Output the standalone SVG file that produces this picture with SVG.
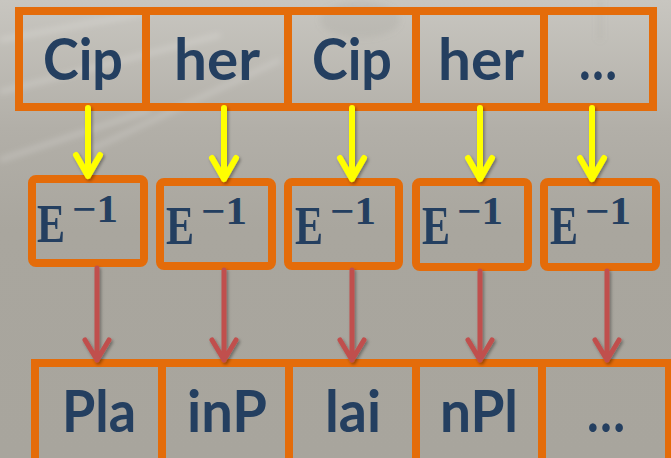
<svg xmlns="http://www.w3.org/2000/svg" width="671" height="458" viewBox="0 0 671 458">
  <defs>
    <linearGradient id="bg" x1="0" y1="0" x2="0" y2="1">
      <stop offset="0" stop-color="#c8c6c0"/>
      <stop offset="0.28" stop-color="#b2afa8"/>
      <stop offset="0.5" stop-color="#a9a69e"/>
      <stop offset="1" stop-color="#a8a59d"/>
    </linearGradient>
    <filter id="soft" x="-20%" y="-20%" width="140%" height="140%">
      <feGaussianBlur stdDeviation="3"/>
    </filter>
    <filter id="shadow" x="-50%" y="-10%" width="200%" height="130%">
      <feDropShadow dx="1.5" dy="2" stdDeviation="1.5" flood-color="#000" flood-opacity="0.35"/>
    </filter>
    <style>
      .cell { fill: none; stroke: #e46c0a; stroke-width: 8; }
      .box { fill: none; stroke: #e46c0a; stroke-width: 8; }
      .word { font-family: Lato, "Open Sans", sans-serif; font-weight: bold; font-size: 57px; fill: #243f60; text-anchor: middle; }
      .op { font-family: "Liberation Serif", serif; font-weight: bold; fill: #243f60; }
      .e { font-size: 55px; }
      .sup { font-size: 39px; }
      .enc { fill: none; stroke: #ffff00; stroke-width: 6; stroke-linecap: round; stroke-linejoin: round; }
      .dec { fill: none; stroke: #c0504d; stroke-width: 5; stroke-linecap: round; stroke-linejoin: round; }
    </style>
  </defs>

  <!-- backdrop -->
  <rect width="671" height="458" fill="url(#bg)"/>
  <g filter="url(#soft)" fill="none" stroke="#ffffff" stroke-opacity="0.3" stroke-width="3">
    <path d="M0 40 L150 12"/>
    <path d="M0 92 L220 35"/>
    <path d="M0 160 L150 110"/>
    <path d="M90 150 L280 60"/>
  </g>
  <g filter="url(#soft)" fill="#8f8c86" fill-opacity="0.15">
    <ellipse cx="360" cy="20" rx="40" ry="18"/>
    <rect x="598" y="0" width="4" height="40"/>
  </g>

  <!-- ciphertext blocks -->
  <g id="cipher-1"><rect class="cell" x="19" y="11" width="127" height="96"/><text class="word" x="83" y="80" textLength="80" lengthAdjust="spacingAndGlyphs">Cip</text></g>
  <g id="cipher-2"><rect class="cell" x="146" y="11" width="142" height="96"/><text class="word" x="217" y="80" textLength="86" lengthAdjust="spacingAndGlyphs">her</text></g>
  <g id="cipher-3"><rect class="cell" x="288" y="11" width="128" height="96"/><text class="word" x="352" y="80" textLength="80" lengthAdjust="spacingAndGlyphs">Cip</text></g>
  <g id="cipher-4"><rect class="cell" x="416" y="11" width="128" height="96"/><text class="word" x="481" y="80" textLength="86" lengthAdjust="spacingAndGlyphs">her</text></g>
  <g id="cipher-5"><rect class="cell" x="544" y="11" width="109" height="96"/><text class="word" x="598" y="80" textLength="38" lengthAdjust="spacingAndGlyphs">…</text></g>

  <!-- decryption operators -->
  <g id="dec-1"><rect class="box" x="32" y="179" width="112" height="84" rx="4"/><text class="op e" x="37" y="242" textLength="28" lengthAdjust="spacingAndGlyphs">E</text><text class="op sup" x="72" y="222" textLength="46" lengthAdjust="spacingAndGlyphs">−1</text></g>
  <g id="dec-2"><rect class="box" x="160" y="182" width="112" height="84" rx="4"/><text class="op e" x="166" y="244" textLength="28" lengthAdjust="spacingAndGlyphs">E</text><text class="op sup" x="201" y="224" textLength="46" lengthAdjust="spacingAndGlyphs">−1</text></g>
  <g id="dec-3"><rect class="box" x="288" y="182" width="111" height="84" rx="4"/><text class="op e" x="295" y="244" textLength="28" lengthAdjust="spacingAndGlyphs">E</text><text class="op sup" x="330" y="224" textLength="46" lengthAdjust="spacingAndGlyphs">−1</text></g>
  <g id="dec-4"><rect class="box" x="416" y="182" width="112" height="85" rx="4"/><text class="op e" x="422" y="244" textLength="28" lengthAdjust="spacingAndGlyphs">E</text><text class="op sup" x="457" y="224" textLength="46" lengthAdjust="spacingAndGlyphs">−1</text></g>
  <g id="dec-5"><rect class="box" x="544" y="182" width="112" height="85" rx="4"/><text class="op e" x="550" y="244" textLength="28" lengthAdjust="spacingAndGlyphs">E</text><text class="op sup" x="585" y="224" textLength="46" lengthAdjust="spacingAndGlyphs">−1</text></g>

  <!-- plaintext blocks -->
  <g id="plain-1"><rect class="cell" x="35" y="363" width="127" height="100"/><text class="word" x="99" y="432" textLength="74" lengthAdjust="spacingAndGlyphs">Pla</text></g>
  <g id="plain-2"><rect class="cell" x="162" y="363" width="127" height="100"/><text class="word" x="227" y="432" textLength="80" lengthAdjust="spacingAndGlyphs">inP</text></g>
  <g id="plain-3"><rect class="cell" x="289" y="363" width="127" height="100"/><text class="word" x="353" y="432" textLength="56" lengthAdjust="spacingAndGlyphs">lai</text></g>
  <g id="plain-4"><rect class="cell" x="416" y="363" width="126" height="100"/><text class="word" x="479" y="432" textLength="78" lengthAdjust="spacingAndGlyphs">nPl</text></g>
  <g id="plain-5"><rect class="cell" x="542" y="363" width="127" height="100"/><text class="word" x="606" y="432" textLength="38" lengthAdjust="spacingAndGlyphs">…</text></g>

  <!-- connectors -->
  <g id="connectors">
    <g filter="url(#shadow)">
      <path class="enc" d="M88 108 V176 M76 155 L88 176 L100 155"/>
      <path class="enc" d="M224 108 V179 M212 158 L224 179 L236 158"/>
      <path class="enc" d="M352 108 V179 M340 158 L352 179 L364 158"/>
      <path class="enc" d="M480 108 V179 M468 158 L480 179 L492 158"/>
      <path class="enc" d="M592 108 V179 M580 158 L592 179 L604 158"/>
    </g>
    <g filter="url(#shadow)">
      <path class="dec" d="M97 268 V360 M85 340 L97 360 L109 340"/>
      <path class="dec" d="M224 270 V360 M212 340 L224 360 L236 340"/>
      <path class="dec" d="M352 270 V360 M340 340 L352 360 L364 340"/>
      <path class="dec" d="M480 271 V360 M468 340 L480 360 L492 340"/>
      <path class="dec" d="M607 271 V360 M595 340 L607 360 L619 340"/>
    </g>
  </g>
</svg>
